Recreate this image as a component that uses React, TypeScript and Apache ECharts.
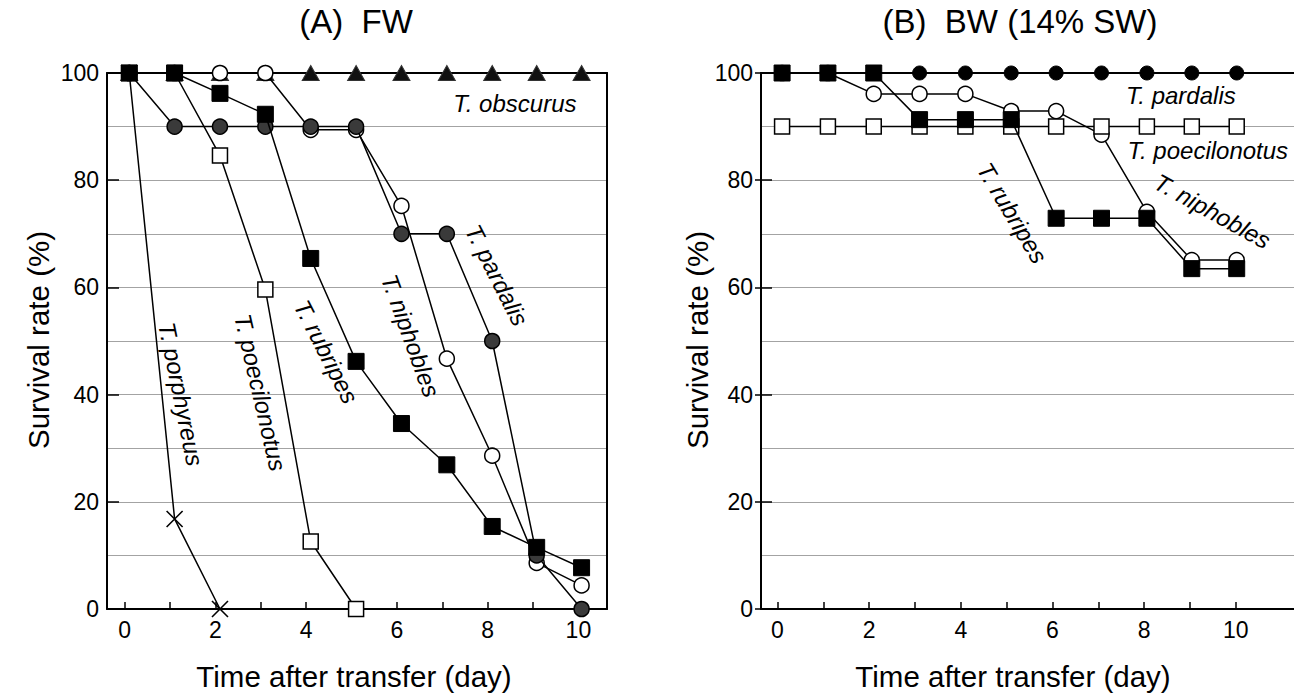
import React, { useEffect, useRef } from "react";
import * as echarts from "echarts";

// ---- data ----
const DAYS_A = [0.1, 1.1, 2.1, 3.1, 4.1, 5.1, 6.1, 7.1, 8.1, 9.08, 10.07];
const DAYS_B = [0.1, 1.1, 2.1, 3.1, 4.1, 5.1, 6.08, 7.07, 8.06, 9.04, 10.02];

// (A) FW
const A_OBSCURUS = [100, 100, 100, 100, 100, 100, 100, 100, 100, 100, 100];
const A_RUBRIPES = [100, 100, 96.2, 92.3, 65.4, 46.2, 34.6, 26.9, 15.4, 11.5, 7.7];
const A_PARDALIS = [100, 90, 90, 90, 90, 90, 70, 70, 50, 10, 0];
const A_NIPHOBLES = [100, 100, 100, 100, 89.4, 89.4, 75.2, 46.7, 28.6, 8.6, 4.4];
const A_POECILONOTUS = [100, 100, 84.6, 59.6, 12.6, 0];
const A_PORPHYREUS = [100, 16.8, 0];

// (B) BW (14% SW)
const B_PARDALIS = [100, 100, 100, 100, 100, 100, 100, 100, 100, 100, 100];
const B_RUBRIPES = [100, 100, 100, 91.3, 91.3, 91.3, 72.9, 72.9, 72.9, 63.5, 63.5];
const B_NIPHOBLES = [100, 100, 96.1, 96.1, 96.1, 92.9, 92.9, 88.5, 74.1, 65.1, 65.1];
const B_POECILONOTUS = [90, 90, 90, 90, 90, 90, 90, 90, 90, 90, 90];

const X_TICKS = [0, 1, 2, 3, 4, 5, 6, 7, 8, 9, 10];
const X_LABELS = [0, 2, 4, 6, 8, 10];

const TITLE_A = "(A)  FW";
const TITLE_B = "(B)  BW (14% SW)";
const X_NAME = "Time after transfer (day)";
const Y_NAME = "Survival rate (%)";

// species annotations: [grid, text, x (data), y (data), angle deg clockwise]
const NOTES: [number, string, number, number, number][] = [
  [0, "T. obscurus", 8.6, 94.4, 0],
  [0, "T. pardalis", 8.2, 62.3, 63],
  [0, "T. niphobles", 6.3, 51.0, 70],
  [0, "T. rubripes", 4.44, 48.0, 63],
  [0, "T. poecilonotus", 2.99, 40.4, 77],
  [0, "T. porphyreus", 1.24, 40.1, 78.5],
  [1, "T. pardalis", 8.8, 95.8, 0],
  [1, "T. poecilonotus", 9.39, 85.5, 0],
  [1, "T. niphobles", 9.49, 74.2, 29],
  [1, "T. rubripes", 5.12, 73.9, 59],
];

const FONT = "'Liberation Sans', Arial, Helvetica, sans-serif";

const zip = (xs: number[], ys: number[]) => ys.map((v, i) => [xs[i], v]);

const FILLED_SQ = { symbol: "rect", symbolSize: 16, itemStyle: { color: "#000", borderColor: "#000", borderWidth: 1 } };
const OPEN_SQ = { symbol: "rect", symbolSize: 15, itemStyle: { color: "#fff", borderColor: "#000", borderWidth: 1.5 } };
const OPEN_CI = { symbol: "circle", symbolSize: 15, itemStyle: { color: "#fff", borderColor: "#000", borderWidth: 1.5 } };
const GRAY_CI = { symbol: "circle", symbolSize: 15, itemStyle: { color: "#3a3a3a", borderColor: "#000", borderWidth: 1.5 } };
const BLACK_CI = { symbol: "circle", symbolSize: 14, itemStyle: { color: "#000", borderColor: "#000", borderWidth: 1 } };
const TRI = { symbol: "triangle", symbolSize: [17, 15], itemStyle: { color: "#111", borderColor: "#333", borderWidth: 1 } };
const CROSS = {
  symbol: "path://M0,0L16,16M16,0L0,16",
  symbolSize: 16,
  itemStyle: { color: "rgba(0,0,0,0)", borderColor: "#000", borderWidth: 1.6 },
};

function lineSeries(name: string, grid: number, xs: number[], ys: number[], marker: any, z: number) {
  return {
    type: "line",
    name,
    xAxisIndex: grid * 2,
    yAxisIndex: grid * 3,
    data: zip(xs, ys),
    clip: false,
    z,
    showAllSymbol: true,
    lineStyle: { color: "#000", width: 1.5 },
    ...marker,
    emphasis: { disabled: true },
  };
}

function axesFor(grid: number, xmin: number, xmax: number, crossTicks: boolean) {
  const black = { color: "#000", width: 2 };
  const xAxes = [
    {
      type: "value",
      gridIndex: grid,
      position: "bottom",
      min: xmin,
      max: xmax,
      axisLine: { show: true, onZero: false, lineStyle: black },
      axisTick: { show: true, inside: true, length: 7, customValues: X_TICKS, lineStyle: { color: "#000", width: 1.5 } },
      axisLabel: { show: true, customValues: X_LABELS, color: "#000", fontSize: 23, fontFamily: FONT, margin: 9 },
      splitLine: { show: false },
    },
    {
      type: "value",
      gridIndex: grid,
      position: "top",
      min: xmin,
      max: xmax,
      axisLine: { show: true, onZero: false, lineStyle: black },
      axisTick: { show: false },
      axisLabel: { show: false },
      splitLine: { show: false },
    },
  ];
  const yAxes: any[] = [
    {
      type: "value",
      gridIndex: grid,
      position: "left",
      min: 0,
      max: 100,
      interval: 10,
      axisLine: { show: true, onZero: false, lineStyle: black },
      axisTick: { show: false },
      axisLabel: { show: false },
      splitLine: { show: true, lineStyle: { color: "#a3a3a3", width: 1.2 } },
    },
    {
      type: "value",
      gridIndex: grid,
      position: "left",
      min: 0,
      max: 100,
      interval: 20,
      axisLine: { show: false, onZero: false },
      axisTick: { show: true, inside: true, length: crossTicks ? 11 : 12, lineStyle: { color: "#000", width: 1.5 } },
      axisLabel: { show: true, color: "#000", fontSize: 23, fontFamily: FONT, margin: 8 },
      splitLine: { show: false },
    },
    crossTicks
      ? {
          type: "value",
          gridIndex: grid,
          position: "left",
          min: 0,
          max: 100,
          interval: 20,
          axisLine: { show: false, onZero: false },
          axisTick: { show: true, inside: false, length: 6, lineStyle: { color: "#000", width: 1.5 } },
          axisLabel: { show: false },
          splitLine: { show: false },
        }
      : {
          type: "value",
          gridIndex: grid,
          position: "right",
          min: 0,
          max: 100,
          axisLine: { show: true, onZero: false, lineStyle: black },
          axisTick: { show: false },
          axisLabel: { show: false },
          splitLine: { show: false },
        },
  ];
  return { xAxes, yAxes };
}

export default function App() {
  const ref = useRef<HTMLDivElement>(null);
  useEffect(() => {
    if (!ref.current) return;
    document.body.style.margin = "0";
    const chart = echarts.init(ref.current, undefined, { renderer: "svg", width: 1294, height: 696 });
    const a = axesFor(0, -0.39, 10.63, false);
    const b = axesFor(1, -0.36, 11.27, true);
    chart.setOption({
      animation: false,
      backgroundColor: "#fff",
      grid: [
        { left: 107, right: 1294 - 607, top: 73, bottom: 87 },
        { left: 761, right: 0, top: 73, bottom: 87 },
      ],
      xAxis: [...a.xAxes, ...b.xAxes],
      yAxis: [...a.yAxes, ...b.yAxes],
      series: [
        lineSeries("T. porphyreus", 0, DAYS_A, A_PORPHYREUS, CROSS, 2),
        lineSeries("T. poecilonotus", 0, DAYS_A, A_POECILONOTUS, OPEN_SQ, 3),
        lineSeries("T. obscurus", 0, DAYS_A, A_OBSCURUS, TRI, 4),
        lineSeries("T. niphobles", 0, DAYS_A, A_NIPHOBLES, OPEN_CI, 5),
        lineSeries("T. pardalis", 0, DAYS_A, A_PARDALIS, GRAY_CI, 6),
        lineSeries("T. rubripes", 0, DAYS_A, A_RUBRIPES, FILLED_SQ, 7),
        lineSeries("T. niphobles B", 1, DAYS_B, B_NIPHOBLES, OPEN_CI, 3),
        lineSeries("T. poecilonotus B", 1, DAYS_B, B_POECILONOTUS, OPEN_SQ, 4),
        lineSeries("T. pardalis B", 1, DAYS_B, B_PARDALIS, BLACK_CI, 5),
        lineSeries("T. rubripes B", 1, DAYS_B, B_RUBRIPES, FILLED_SQ, 6),
      ],
    });

    const notes = NOTES.map(([g, text, x, y, ang]) => {
      const p = chart.convertToPixel({ xAxisIndex: g * 2, yAxisIndex: g * 3 }, [x, y]) as number[];
      return {
        type: "text",
        x: p[0],
        y: p[1],
        rotation: (-ang * Math.PI) / 180,
        z: 20,
        style: {
          text,
          fill: "#000",
          font: `italic 24px ${FONT}`,
          align: "center",
          verticalAlign: "middle",
        },
      };
    });
    const txt = (text: string, x: number, y: number, size: number, rot = 0) => ({
      type: "text",
      x,
      y,
      rotation: rot,
      z: 20,
      style: { text, fill: "#000", font: `${size}px ${FONT}`, align: "center", verticalAlign: "middle" },
    });
    chart.setOption({
      graphic: [
        ...notes,
        txt(TITLE_A, 356, 21, 33),
        txt(TITLE_B, 1020, 21, 33),
        txt(X_NAME, 354, 676, 29.5),
        txt(X_NAME, 1013, 676, 29.5),
        txt(Y_NAME, 38, 340, 29.5, Math.PI / 2),
        txt(Y_NAME, 697, 340, 29.5, Math.PI / 2),
      ],
    });
    return () => chart.dispose();
  }, []);
  return (
    <div
      ref={ref}
      style={{ position: "fixed", left: 0, top: 0, width: 1294, height: 696, background: "#fff" }}
    />
  );
}
